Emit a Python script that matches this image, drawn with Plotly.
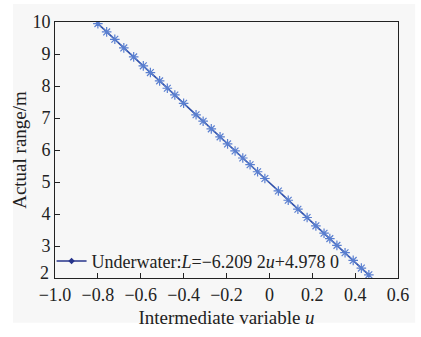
import plotly.graph_objects as go

# Data
u_vals = [-0.800, -0.759, -0.721, -0.679, -0.633, -0.588, -0.555, -0.512, -0.476,
          -0.441, -0.400, -0.342, -0.309, -0.271, -0.230, -0.195, -0.160, -0.124,
          -0.090, -0.055, -0.021, 0.042, 0.088, 0.133, 0.176, 0.217, 0.255, 0.282,
          0.315, 0.353, 0.391, 0.429, 0.464]
L_vals = [9.95, 9.69, 9.46, 9.19, 8.91, 8.63, 8.42, 8.16, 7.93,
          7.72, 7.46, 7.10, 6.90, 6.66, 6.41, 6.19, 5.97, 5.75,
          5.54, 5.32, 5.11, 4.72, 4.43, 4.15, 3.89, 3.63, 3.40, 3.23,
          3.02, 2.79, 2.55, 2.31, 2.10]

x_tickvals = [-1.0, -0.8, -0.6, -0.4, -0.2, 0.0, 0.2, 0.4, 0.6]
x_ticktext = ["\u22121.0", "\u22120.8", "\u22120.6", "\u22120.4", "\u22120.2", "0", "0.2", "0.4", "0.6"]
y_tickvals = [2, 3, 4, 5, 6, 7, 8, 9, 10]
y_ticktext = ["", "3", "4", "5", "6", "7", "8", "9", "10"]  # "2" drawn raised, as in the original

legend_label = "Underwater:<i>L</i>=\u22126.209 2<i>u</i>+4.978 0"

FONT = "Liberation Serif"

fig = go.Figure()
fig.add_trace(go.Scatter(
    x=u_vals, y=L_vals, mode="lines+markers",
    line=dict(color="#2f4fa8", width=1.6),
    marker=dict(symbol="asterisk-open", size=8, color="#5a7fd0",
                line=dict(color="#5a7fd0", width=1.2)),
    showlegend=False, cliponaxis=True,
))
fig.add_trace(go.Scatter(
    x=[None], y=[None], mode="lines+markers", name=legend_label,
    line=dict(color="#27348b", width=1.5),
    marker=dict(symbol="diamond", size=5, color="#27348b"),
))

fig.add_shape(type="rect", xref="paper", yref="paper",
              x0=-0.1225, x1=1.05, y0=-0.175, y1=1.07,
              fillcolor="#f7f7f7", line=dict(width=0), layer="below")

fig.add_annotation(text="2", xref="paper", yref="y", x=0, y=y_tickvals[0],
                   xanchor="right", yanchor="middle", xshift=-4, yshift=5,
                   showarrow=False, font=dict(family=FONT, size=18, color="#222"))

axis_common = dict(
    showline=True, linecolor="#222", linewidth=1, mirror=True,
    ticks="inside", ticklen=5, tickcolor="#222", tickwidth=1,
    showgrid=False, zeroline=False,
    tickfont=dict(family=FONT, size=18, color="#222"),
)

fig.update_layout(
    width=421, height=337,
    margin=dict(l=55, r=15, t=17, b=52),
    paper_bgcolor="white", plot_bgcolor="rgba(0,0,0,0)",
    font=dict(family=FONT, size=18, color="#222"),
    xaxis=dict(range=[-1.0, 0.6], tickvals=x_tickvals, ticktext=x_ticktext,
               title=dict(text="Intermediate variable <i>u</i>", font=dict(family=FONT, size=19), standoff=7),
               **axis_common),
    yaxis=dict(range=[2, 10], tickvals=y_tickvals, ticktext=y_ticktext,
               title=dict(text="Actual range/m", font=dict(family=FONT, size=19), standoff=0),
               **axis_common),
    legend=dict(x=-0.01, y=0.065, xanchor="left", yanchor="middle",
                bgcolor="rgba(0,0,0,0)", borderwidth=0,
                font=dict(family=FONT, size=18, color="#222"),
                itemwidth=30, tracegroupgap=0),
)

fig.write_html("out.html")
